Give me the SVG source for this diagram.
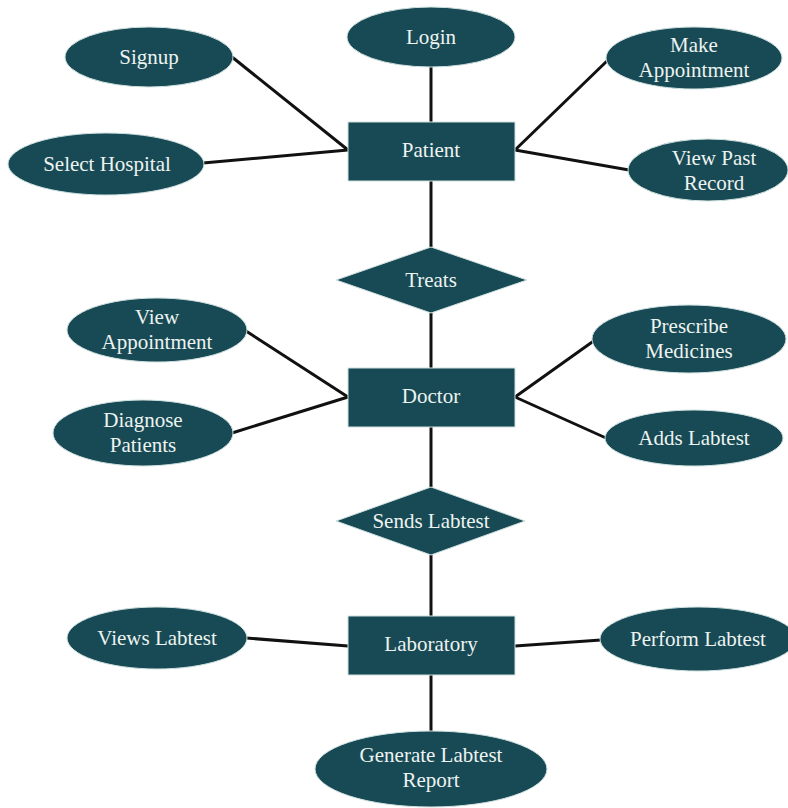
<svg xmlns="http://www.w3.org/2000/svg" width="788" height="808" viewBox="0 0 788 808">
<style>
.s{fill:#174a54;stroke:#cfe0e0;stroke-width:1}
.t{font-family:"Liberation Serif",serif;font-size:21px;fill:#eef3f1;text-anchor:middle}
.c line{stroke:#111;stroke-width:3}
</style>
<rect width="788" height="808" fill="#fff"/>
<g class="c" id="connectors">
<line x1="431" y1="67" x2="431" y2="122"/>
<line x1="232" y1="57" x2="348" y2="150"/>
<line x1="203" y1="163" x2="348" y2="150"/>
<line x1="608" y1="60" x2="515" y2="150"/>
<line x1="629" y1="170" x2="515" y2="150"/>
<line x1="431" y1="181" x2="431" y2="247"/>
<line x1="431" y1="313" x2="431" y2="368"/>
<line x1="246" y1="331" x2="348" y2="397"/>
<line x1="232" y1="433" x2="348" y2="397"/>
<line x1="595" y1="340" x2="515" y2="397"/>
<line x1="606" y1="438" x2="515" y2="397"/>
<line x1="431" y1="427" x2="431" y2="487"/>
<line x1="431" y1="555" x2="431" y2="616"/>
<line x1="246" y1="638" x2="348" y2="646"/>
<line x1="601" y1="640" x2="515" y2="646"/>
<line x1="431" y1="675" x2="431" y2="731"/>
</g>
<g id="login"><ellipse class="s" cx="431" cy="37" rx="84" ry="30"/><text class="t" x="431" y="44">Login</text></g>
<g id="signup"><ellipse class="s" cx="149" cy="57" rx="84" ry="30"/><text class="t" x="149" y="64">Signup</text></g>
<g id="select-hospital"><ellipse class="s" cx="106" cy="164" rx="98" ry="31"/><text class="t" x="107" y="171">Select Hospital</text></g>
<g id="make-appointment"><ellipse class="s" cx="694" cy="58" rx="88" ry="31"/><text class="t" x="694" y="52">Make</text><text class="t" x="694" y="77">Appointment</text></g>
<g id="view-past-record"><ellipse class="s" cx="708" cy="170" rx="80" ry="31"/><text class="t" x="714" y="165">View Past</text><text class="t" x="714" y="190">Record</text></g>
<g id="patient"><rect class="s" x="348" y="122" width="167" height="59"/><text class="t" x="431" y="157">Patient</text></g>
<g id="treats"><polygon class="s" points="431,247 527,280 431,313 336,280"/><text class="t" x="431" y="287">Treats</text></g>
<g id="view-appointment"><ellipse class="s" cx="157" cy="330" rx="90" ry="32"/><text class="t" x="157" y="324">View</text><text class="t" x="157" y="349">Appointment</text></g>
<g id="diagnose-patients"><ellipse class="s" cx="143" cy="433" rx="90" ry="33"/><text class="t" x="143" y="427">Diagnose</text><text class="t" x="143" y="452">Patients</text></g>
<g id="prescribe-medicines"><ellipse class="s" cx="689" cy="339" rx="97" ry="34"/><text class="t" x="689" y="333">Prescribe</text><text class="t" x="689" y="358">Medicines</text></g>
<g id="adds-labtest"><ellipse class="s" cx="694" cy="438" rx="89" ry="28"/><text class="t" x="694" y="445">Adds Labtest</text></g>
<g id="doctor"><rect class="s" x="348" y="368" width="167" height="59"/><text class="t" x="431" y="403">Doctor</text></g>
<g id="sends-labtest"><polygon class="s" points="431,487 525,521 431,555 336,521"/><text class="t" x="431" y="528">Sends Labtest</text></g>
<g id="views-labtest"><ellipse class="s" cx="157" cy="638" rx="90" ry="31"/><text class="t" x="157" y="645">Views Labtest</text></g>
<g id="perform-labtest"><ellipse class="s" cx="698" cy="639" rx="98" ry="32"/><text class="t" x="698" y="646">Perform Labtest</text></g>
<g id="laboratory"><rect class="s" x="348" y="616" width="167" height="59"/><text class="t" x="431" y="651">Laboratory</text></g>
<g id="generate-labtest-report"><ellipse class="s" cx="431" cy="769" rx="116" ry="38"/><text class="t" x="431" y="762">Generate Labtest</text><text class="t" x="431" y="787">Report</text></g>
</svg>
